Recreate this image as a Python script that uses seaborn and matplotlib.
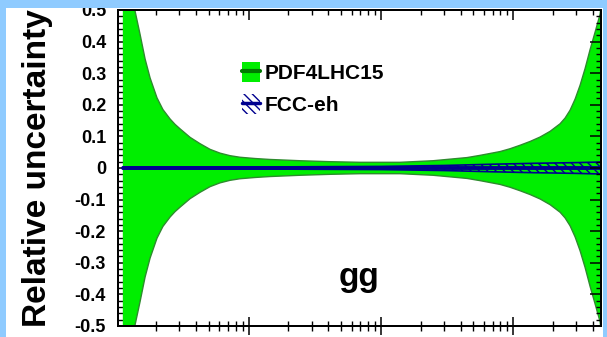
import numpy as np
import pandas as pd
import seaborn as sns
import matplotlib
matplotlib.use('Agg')
import matplotlib.pyplot as plt
from matplotlib.patches import Patch, Rectangle
from matplotlib.lines import Line2D
from matplotlib.ticker import MultipleLocator, FixedLocator, LogLocator, NullFormatter

# PDF4LHC15 relative uncertainty (symmetric band) vs mass
mass_pdf = [11.2, 12.3, 13.8, 15.1, 16.5, 18.0, 20.3, 22.5, 25.5, 27.8, 30.3, 36.1,
            42.9, 51.1, 60.8, 72.3, 86.1, 111.8, 145, 245, 412, 695, 1394, 2476,
            3330, 4475, 5611, 6678, 7947, 9460, 11260, 13400, 15940, 18970, 22580,
            24630, 26870, 29320, 31980, 34900, 38070, 41520, 45300, 46000]
err_pdf = [0.72, 0.62, 0.50, 0.424, 0.345, 0.285, 0.222, 0.185, 0.155, 0.138, 0.124,
           0.097, 0.077, 0.059, 0.047, 0.039, 0.034, 0.030, 0.027, 0.023, 0.020, 0.018,
           0.018, 0.023, 0.028, 0.033, 0.040, 0.046, 0.052, 0.061, 0.072, 0.084, 0.098,
           0.116, 0.140, 0.158, 0.183, 0.218, 0.262, 0.315, 0.375, 0.430, 0.487, 0.51]

# FCC-eh relative uncertainty
mass_fcc = [11.2, 30, 100, 300, 1000, 3000, 7000, 15000, 30000, 46000]
err_fcc = [0.003, 0.003, 0.003, 0.004, 0.005, 0.008, 0.012, 0.015, 0.017, 0.019]
center_fcc = [0.0] * len(mass_fcc)

yticks = [-0.5, -0.4, -0.3, -0.2, -0.1, 0.0, 0.1, 0.2, 0.3, 0.4, 0.5]
ylabels = ['-0.5', '-0.4', '-0.3', '-0.2', '-0.1', '0', '0.1', '0.2', '0.3', '0.4', '0.5']

green = '#00ee00'
dgreen = '#2e8b2e'
navy = '#00008f'
bgblue = '#8fcbff'

sns.set_theme(style='ticks')
plt.rcParams['font.family'] = ['Liberation Sans', 'DejaVu Sans']
plt.rcParams['font.weight'] = 'bold'
plt.rcParams['hatch.linewidth'] = 1.0
for k in ['text.color', 'axes.labelcolor', 'xtick.color', 'ytick.color', 'axes.edgecolor']:
    plt.rcParams[k] = 'black'

fig = plt.figure(figsize=(6.07, 3.37), dpi=100, facecolor='white')
ax = fig.add_axes([118 / 607, 11 / 337, 483 / 607, 316 / 337])

df_pdf = pd.DataFrame({'mass': mass_pdf, 'err': err_pdf})
df_fcc = pd.DataFrame({'mass': mass_fcc, 'err': err_fcc, 'center': center_fcc})

ax.fill_between(df_pdf['mass'], -df_pdf['err'], df_pdf['err'], color=green, lw=0, zorder=1)
sns.lineplot(data=df_pdf, x='mass', y='err', color=dgreen, lw=1.0, ax=ax, zorder=2)
ax.plot(df_pdf['mass'], -df_pdf['err'], color=dgreen, lw=1.0, zorder=2)

ax.fill_between(df_fcc['mass'], df_fcc['center'] - df_fcc['err'],
                df_fcc['center'] + df_fcc['err'], facecolor='none', edgecolor=navy,
                hatch='\\\\\\\\', lw=1.2, zorder=3)
sns.lineplot(data=df_fcc, x='mass', y='center', color=navy, lw=2.8, ax=ax, zorder=4)

ax.set_xscale('log')
ax.set_xlim(10.3, 46000)
ax.set_ylim(-0.5, 0.5)
ax.set_xlabel('')
ax.set_ylabel('Relative uncertainty', fontsize=24, fontweight='bold')
ax.yaxis.set_label_coords(-0.134, 0.5)

ax.yaxis.set_major_locator(FixedLocator(yticks))
ax.set_yticklabels(ylabels)
ax.yaxis.set_minor_locator(MultipleLocator(0.02))
ax.xaxis.set_major_locator(LogLocator(base=10))
ax.xaxis.set_minor_locator(LogLocator(base=10, subs=np.arange(2, 10)))
ax.xaxis.set_minor_formatter(NullFormatter())

for s in ax.spines.values():
    s.set_linewidth(1.3)
    s.set_color('black')

ax.tick_params(axis='y', which='major', direction='in', length=10, width=1.1,
               labelsize=13, pad=8.6, left=True, right=False)
ax.tick_params(axis='y', which='minor', direction='in', length=5, width=1.0, left=True, right=False)
ax.tick_params(axis='x', which='major', direction='inout', length=13, width=1.1,
               labelbottom=False, top=False)
ax.tick_params(axis='x', which='minor', direction='inout', length=7.2, width=1.0, top=False)
for lab in ax.get_yticklabels():
    lab.set_fontweight('bold')

ax.text(680, -0.372, 'gg', fontsize=24, fontweight='bold', ha='center', va='baseline', zorder=5)

# right ticks
axr = ax.twinx()
axr.set_ylim(-0.5, 0.5)
axr.yaxis.set_major_locator(FixedLocator(yticks))
axr.yaxis.set_minor_locator(MultipleLocator(0.02))
axr.tick_params(axis='y', which='major', direction='in', length=8, width=1.1, labelright=False)
axr.tick_params(axis='y', which='minor', direction='in', length=3.6, width=1.0)
axr.grid(False)

# top ticks
axt = ax.twiny()
axt.set_xscale('log')
axt.set_xlim(10.3, 46000)
axt.xaxis.set_major_locator(LogLocator(base=10))
axt.xaxis.set_minor_locator(LogLocator(base=10, subs=np.arange(2, 10)))
axt.tick_params(axis='x', which='major', direction='in', length=7.2, width=1.1, labeltop=False)
axt.tick_params(axis='x', which='minor', direction='in', length=3.6, width=1.0)
axt.xaxis.set_minor_formatter(NullFormatter())
axt.grid(False)

h_pdf = (Patch(facecolor=green, edgecolor='none'), Line2D([], [], color='#007a00', lw=3))
h_fcc = (Patch(facecolor='none', edgecolor=navy, hatch='\\\\\\\\', lw=0),
         Line2D([], [], color=navy, lw=2.5))
axt.legend([h_pdf, h_fcc], ['PDF4LHC15', 'FCC-eh'], loc='upper left',
           bbox_to_anchor=(0.257, 0.835), frameon=False, borderpad=0, borderaxespad=0,
           prop={'size': 15, 'weight': 'bold'}, handlelength=0.87, handleheight=1.06,
           handletextpad=0.2, labelspacing=0.55)

# light blue border strips of the canvas
for r in [(0, 1 - 8 / 337, 1, 8 / 337), (0, 0, 6 / 607, 1), (603 / 607, 0, 4 / 607, 1)]:
    fig.patches.append(Rectangle(r[:2], r[2], r[3], transform=fig.transFigure,
                                 facecolor=bgblue, edgecolor='none', zorder=20))

fig.savefig('out.png', dpi=100)
